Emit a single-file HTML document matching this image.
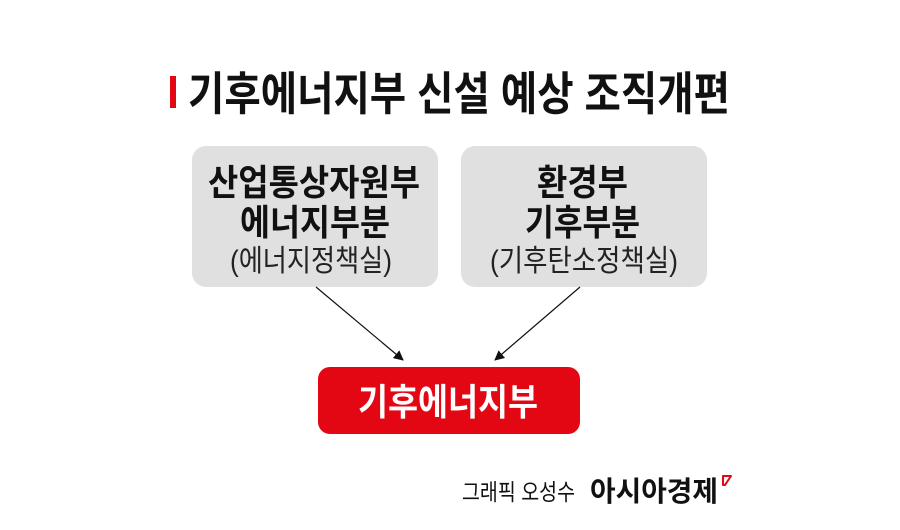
<!DOCTYPE html>
<html><head><meta charset="utf-8"><style>
html,body{margin:0;padding:0;background:#fff;width:900px;height:530px;overflow:hidden}
text{font-family:"Liberation Sans","Noto Sans CJK KR",sans-serif}
</style></head><body>
<svg width="900" height="530" viewBox="0 0 900 530" xmlns="http://www.w3.org/2000/svg">
<defs><marker id="a" markerWidth="10" markerHeight="10" refX="9" refY="5" orient="auto" markerUnits="userSpaceOnUse"><path d="M0,0 L10,5 L0,10 z" fill="#111"/></marker></defs>
<rect x="170" y="76" width="6" height="32" fill="#e30613"/>
<text x="188" y="110" font-size="46" font-weight="700" fill="#111" textLength="542" lengthAdjust="spacingAndGlyphs">기후에너지부 신설 예상 조직개편</text>
<rect x="192" y="146" width="246" height="141" rx="14" fill="#e0e0e0"/>
<rect x="461" y="146" width="246" height="141" rx="14" fill="#e0e0e0"/>
<g font-weight="700" fill="#111" font-size="36">
<text x="208" y="195" textLength="212" lengthAdjust="spacingAndGlyphs">산업통상자원부</text>
<text x="240" y="235" textLength="150" lengthAdjust="spacingAndGlyphs">에너지부분</text>
<text x="537" y="195" textLength="91" lengthAdjust="spacingAndGlyphs">환경부</text>
<text x="525" y="235" textLength="115" lengthAdjust="spacingAndGlyphs">기후부분</text>
</g>
<g fill="#222" font-size="30">
<text x="230" y="271" textLength="162" lengthAdjust="spacingAndGlyphs">(에너지정책실)</text>
<text x="490" y="271" textLength="188" lengthAdjust="spacingAndGlyphs">(기후탄소정책실)</text>
</g>
<line x1="316" y1="287" x2="403" y2="360" stroke="#111" stroke-width="1.2" marker-end="url(#a)"/>
<line x1="580" y1="287" x2="495" y2="360" stroke="#111" stroke-width="1.2" marker-end="url(#a)"/>
<rect x="318" y="367" width="262" height="67" rx="12" fill="#e30613"/>
<text x="358" y="415" font-size="37" font-weight="700" fill="#fff" textLength="180" lengthAdjust="spacingAndGlyphs">기후에너지부</text>
<text x="462" y="500" font-size="23" fill="#111" textLength="113" lengthAdjust="spacingAndGlyphs">그래픽 오성수</text>
<text x="590" y="501" font-size="28" font-weight="700" fill="#111" textLength="128" lengthAdjust="spacingAndGlyphs">아시아경제</text>
<path d="M723,476 L731,476 L725,485 L723,485 Z" fill="none" stroke="#e30613" stroke-width="2" stroke-linejoin="round"/>
</svg>
</body></html>
